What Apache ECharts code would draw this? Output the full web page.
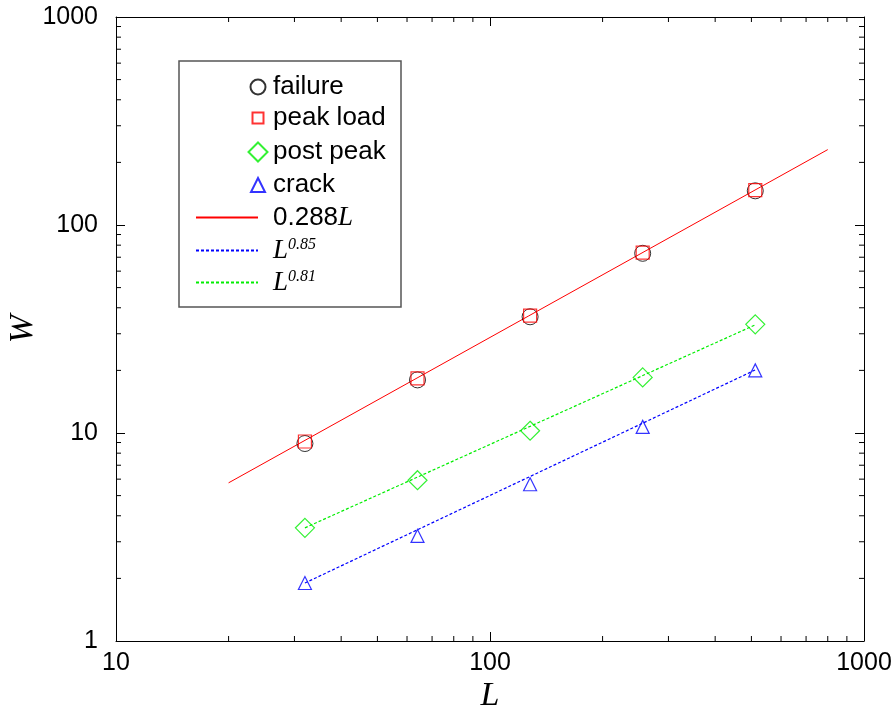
<!DOCTYPE html>
<html>
<head>
<meta charset="utf-8">
<script src="https://cdn.jsdelivr.net/npm/echarts@6/dist/echarts.min.js"></script>
<style>
  html, body { margin: 0; padding: 0; background: #fff; }
  #chart { width: 895px; height: 710px; }
</style>
</head>
<body>
<div id="chart"></div>
<script>
// System sizes L and measured widths W
const sizes = [32, 64, 128, 256, 512];
const failureW = [8.9, 18.0, 36.2, 73.1, 146];
const peakLoadW = [9.1, 18.3, 36.7, 73.6, 147];
const postPeakW = [3.5, 5.93, 10.25, 18.5, 33.3];
const crackW = [1.9, 3.2, 5.67, 10.7, 20.0];

// Power-law guide lines (end points)
const linearFitL = [20, 800];
const linearFitW = [5.76, 230.4];
const crackFitL = [32, 512];
const crackFitW = [1.9, 20.1];
const postFitL = [32, 512];
const postFitW = [3.5, 33.1];

// Axis tick values
const xMajorTicks = [10, 100, 1000];
const yMajorTicks = [1, 10, 100, 1000];
const minorSteps = [2, 3, 4, 5, 6, 7, 8, 9];

const pairs = (xs, ys) => xs.map((x, i) => [x, ys[i]]);

const minorX = [];
[10, 100].forEach(d => minorSteps.forEach(m => minorX.push([d * m, 0])));
const minorY = [];
[1, 10, 100].forEach(d => minorSteps.forEach(m => minorY.push([d * m, 1])));

const SANS = 'Liberation Sans';
const SERIF = 'Liberation Serif';

const chart = echarts.init(document.getElementById('chart'), null, { renderer: 'canvas' });

const axisCommon = {
  type: 'log',
  logBase: 10,
  axisLine: { show: true, lineStyle: { color: '#000', width: 1 } },
  axisTick: { show: true, inside: true, length: 9, lineStyle: { color: '#000', width: 1 } },
  splitLine: { show: false },
  minorTick: { show: false },
  minorSplitLine: { show: false }
};

// Legend rows: each entry is its own legend so icon sizes can differ
const legendRows = [
  { name: 'failure', cy: 87, iconLeft: 249.5, w: 15, line: false },
  { name: 'peak load', cy: 118, iconLeft: 251.5, w: 11, line: false },
  { name: 'post peak', cy: 152, iconLeft: 247.5, w: 19, line: false },
  { name: 'crack', cy: 185, iconLeft: 250, w: 14, line: false },
  { name: '0.288L', cy: 217, iconLeft: 195, w: 62, line: true },
  { name: 'L^0.85', cy: 250, iconLeft: 195, w: 62, line: true },
  { name: 'L^0.81', cy: 282, iconLeft: 195, w: 62, line: true }
];
const TEXT_X = 272;
const FONT = 26;

const legendLabel = {
  '0.288L': '{n|0.288}{i|L}',
  'L^0.85': '{i|L}{s|0.85}',
  'L^0.81': '{i|L}{s|0.81}'
};

const legends = legendRows.map(r => {
  const h = r.line ? 26 : r.w;
  const lg = {
    orient: 'vertical',
    left: r.iconLeft,
    top: r.cy - 13,
    padding: 0,
    itemGap: 0,
    itemWidth: r.w,
    itemHeight: h,
    selectedMode: false,
    data: [r.name],
    formatter: name => legendLabel[name] || name,
    textStyle: {
      color: '#000',
      fontFamily: SANS,
      fontSize: FONT,
      padding: [0, 0, 0, TEXT_X - (r.iconLeft + r.w + 5)],
      rich: {
        n: { fontFamily: SANS, fontSize: FONT, color: '#000' },
        i: { fontFamily: SERIF, fontStyle: 'italic', fontSize: 27, color: '#000', verticalAlign: 'bottom' },
        s: { fontFamily: SERIF, fontStyle: 'italic', fontSize: 16, color: '#000', verticalAlign: 'top' }
      }
    }
  };
  if (r.line) {
    // hide the symbol that a line legend draws in the middle of its icon
    lg.itemStyle = { color: 'rgba(0,0,0,0)', borderColor: 'rgba(0,0,0,0)', borderWidth: 0 };
  }
  return lg;
});

const option = {
  backgroundColor: '#fff',
  animation: false,
  grid: { left: 116, right: 31, top: 17, bottom: 69, containLabel: false, outerBoundsMode: 'none' },
  legend: legends,
  graphic: [{
    type: 'rect',
    shape: { x: 179, y: 61, width: 222, height: 246 },
    style: { fill: 'none', stroke: '#555', lineWidth: 1.5 },
    z: 100
  }],
  xAxis: [
    Object.assign({}, axisCommon, {
      position: 'bottom', min: 10, max: 1000,
      name: 'L', nameLocation: 'middle', nameGap: 38, nameMoveOverlap: false,
      nameTextStyle: { fontFamily: SERIF, fontStyle: 'italic', fontSize: 34, color: '#000' },
      axisLabel: { show: true, margin: 10, color: '#000', fontFamily: SANS, fontSize: 25,
        formatter: v => String(Math.round(v)) }
    }),
    Object.assign({}, axisCommon, {
      position: 'top', min: 10, max: 1000, axisLabel: { show: false }
    })
  ],
  yAxis: [
    Object.assign({}, axisCommon, {
      position: 'left', min: 1, max: 1000,
      name: 'W', nameLocation: 'middle', nameGap: 76, nameRotate: 90, nameMoveOverlap: false,
      nameTextStyle: { fontFamily: SERIF, fontStyle: 'italic', fontSize: 34, color: '#000' },
      axisLabel: { show: true, margin: 18, color: '#000', fontFamily: SANS, fontSize: 25,
        formatter: v => String(Math.round(v)) }
    }),
    Object.assign({}, axisCommon, {
      position: 'right', min: 1, max: 1000, axisLabel: { show: false }
    })
  ],
  series: [
    {
      name: '0.288L', type: 'line', symbol: 'none', showSymbol: false, z: 2,
      color: '#ff0000',
      lineStyle: { color: '#ff0000', width: 1 },
      data: pairs(linearFitL, linearFitW)
    },
    {
      name: 'L^0.85', type: 'line', symbol: 'none', showSymbol: false, z: 2,
      color: '#0000ff',
      lineStyle: { color: '#0000ff', width: 1.2, type: [3, 2] },
      data: pairs(crackFitL, crackFitW)
    },
    {
      name: 'L^0.81', type: 'line', symbol: 'none', showSymbol: false, z: 2,
      color: '#00ee00',
      lineStyle: { color: '#00ee00', width: 1.2, type: [3, 2] },
      data: pairs(postFitL, postFitW)
    },
    {
      name: 'failure', type: 'scatter', symbol: 'circle', symbolSize: 16, z: 3,
      itemStyle: { color: 'rgba(0,0,0,0)', borderColor: '#000', borderWidth: 1 },
      data: pairs(sizes, failureW)
    },
    {
      name: 'peak load', type: 'scatter', symbol: 'rect', symbolSize: 13, z: 4,
      itemStyle: { color: 'rgba(0,0,0,0)', borderColor: '#ff0000', borderWidth: 1.2 },
      data: pairs(sizes, peakLoadW)
    },
    {
      name: 'post peak', type: 'scatter', symbol: 'diamond', symbolSize: 19, z: 3,
      itemStyle: { color: 'rgba(0,0,0,0)', borderColor: '#00ee00', borderWidth: 1.2 },
      data: pairs(sizes, postPeakW)
    },
    {
      name: 'crack', type: 'scatter', symbol: 'triangle', symbolSize: 13, z: 3,
      itemStyle: { color: 'rgba(0,0,0,0)', borderColor: '#0000ff', borderWidth: 1.2 },
      data: pairs(sizes, crackW)
    },
    {
      // minor ticks on all four frame edges, placed through the axis scales
      name: 'minor ticks', type: 'custom', silent: true, clip: false, z: 5,
      data: minorX.concat(minorY),
      renderItem: (params, api) => {
        const v = api.value(0);
        const kind = api.value(1);
        const len = 5;
        const st = { stroke: '#000', lineWidth: 1 };
        if (kind === 0) {
          const b = api.coord([v, yMajorTicks[0]]);
          const t = api.coord([v, yMajorTicks[yMajorTicks.length - 1]]);
          return { type: 'group', children: [
            { type: 'line', shape: { x1: b[0], y1: b[1], x2: b[0], y2: b[1] - len }, style: st },
            { type: 'line', shape: { x1: t[0], y1: t[1], x2: t[0], y2: t[1] + len }, style: st }
          ] };
        }
        const l = api.coord([xMajorTicks[0], v]);
        const r = api.coord([xMajorTicks[xMajorTicks.length - 1], v]);
        return { type: 'group', children: [
          { type: 'line', shape: { x1: l[0], y1: l[1], x2: l[0] + len, y2: l[1] }, style: st },
          { type: 'line', shape: { x1: r[0], y1: r[1], x2: r[0] - len, y2: r[1] }, style: st }
        ] };
      }
    }
  ]
};

chart.setOption(option);
</script>
</body>
</html>
